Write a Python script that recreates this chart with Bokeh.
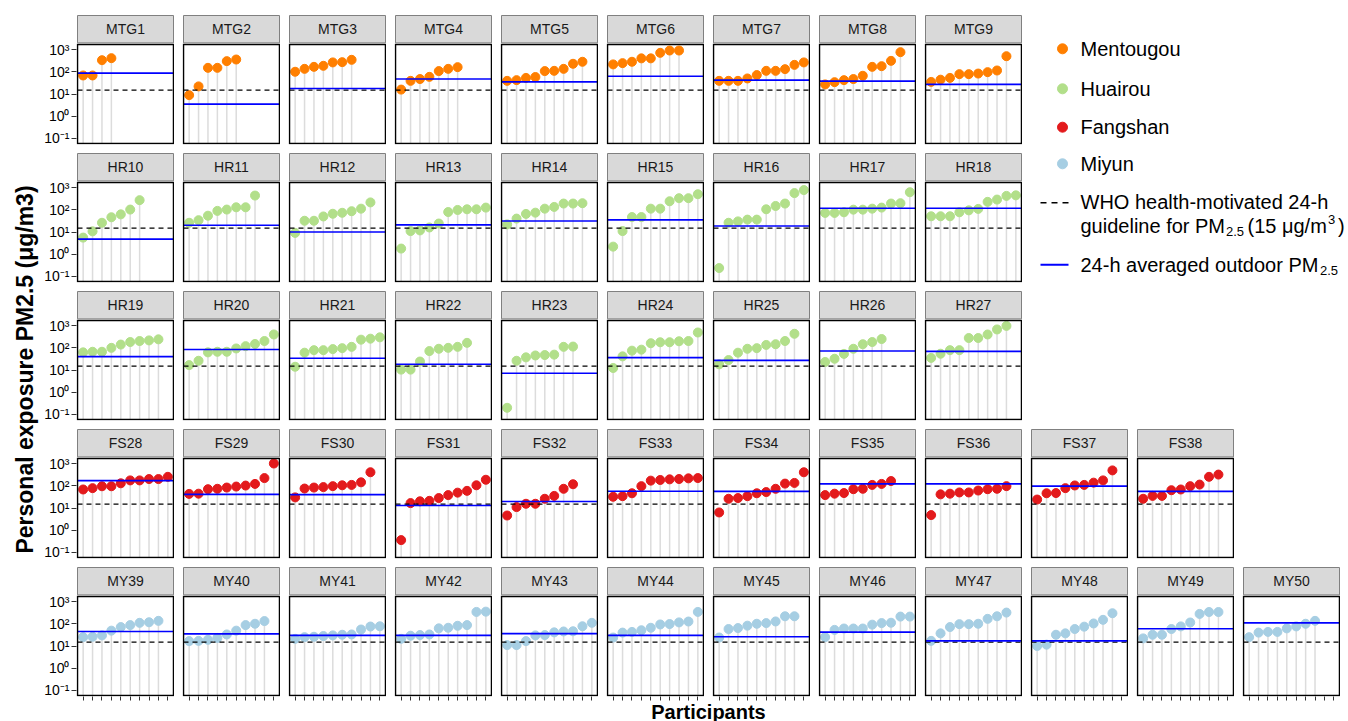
import math
from bokeh.plotting import figure
from bokeh.layouts import row, column
from bokeh.models import Range1d, LinearScale, FixedTicker, CustomJSTickFormatter
from bokeh.core.properties import value
from bokeh.embed import file_html
from bokeh.resources import INLINE

# ---------------- data ----------------
MTG_IDS = ["MTG1", "MTG2", "MTG3", "MTG4", "MTG5", "MTG6", "MTG7", "MTG8", "MTG9"]
MTG_EXPOSURE = [
    [68, 68, 331, 408],
    [8.9, 22, 150, 150, 300, 355],
    [100, 135, 166, 185, 263, 270, 344],
    [15.8, 39, 47, 59, 107, 135, 161],
    [39, 42, 53, 58, 107, 110, 135, 228, 281],
    [214, 244, 281, 400, 400, 708, 900, 900],
    [39, 39, 39, 50, 71, 110, 110, 131, 204, 263],
    [27, 34, 42, 47, 66, 166, 178, 309, 759],
    [35, 44, 53, 78, 78, 83, 96, 114, 500],
]
MTG_OUTDOOR = [87, 3.5, 17.7, 47, 35, 63, 42, 38, 27]

HR_IDS = ["HR10", "HR11", "HR12", "HR13", "HR14", "HR15", "HR16", "HR17", "HR18",
          "HR19", "HR20", "HR21", "HR22", "HR23", "HR24", "HR25", "HR26", "HR27"]
HR_EXPOSURE = [
    [5.6, 10.7, 26, 46, 62, 102, 270],
    [26, 34, 54, 89, 102, 129, 129, 435],
    [9.1, 32, 32, 50, 66, 73, 86, 112, 214],
    [1.8, 11, 11.8, 16, 24, 79, 98, 105, 105, 125],
    [22, 40, 65, 74, 112, 134, 190, 190, 197],
    [2.2, 11, 47, 47, 112, 112, 241, 331, 331, 500],
    [0.24, 26, 30, 36, 36, 105, 148, 190, 560, 767],
    [72, 72, 77, 101, 101, 112, 125, 190, 197, 615],
    [51, 51, 51, 77, 94, 109, 226, 287, 420, 445],
    [62, 66, 66, 99, 139, 181, 201, 214, 239],
    [16.6, 26, 62, 66, 66, 93, 118, 148, 201, 395],
    [14, 60, 78, 78, 87, 96, 110, 231, 256, 294],
    [10.4, 10.4, 24, 71, 90, 99, 110, 166],
    [0.2, 26, 37, 45, 47, 49, 110, 113],
    [12.3, 41, 74, 82, 160, 177, 177, 196, 201, 485],
    [18, 28, 60, 90, 96, 134, 144, 201, 425],
    [23, 32, 53, 90, 144, 181, 247],
    [35, 54, 78, 78, 274, 274, 395, 665, 960],
]
HR_OUTDOOR = [4.8, 20, 10, 21, 31, 35, 18.5, 117, 117,
              40, 83, 34, 18, 7.1, 36, 27, 71, 69]

FS_IDS = ["FS28", "FS29", "FS30", "FS31", "FS32", "FS33", "FS34", "FS35", "FS36", "FS37", "FS38"]
FS_EXPOSURE = [
    [68, 78, 95, 95, 129, 174, 174, 200, 200, 252],
    [43, 44, 70, 73, 83, 92, 102, 121, 221, 1000],
    [30, 75, 83, 87, 96, 105, 109, 143, 405],
    [0.36, 16.6, 20, 21, 28, 38, 49, 59, 105, 186],
    [4.6, 11, 15.5, 15.5, 26, 35, 73, 117],
    [32, 34, 46, 96, 170, 182, 194, 201, 215, 222],
    [6.3, 26, 28, 34, 46, 52, 73, 125, 134, 405],
    [38, 44, 47, 70, 73, 109, 121, 163],
    [4.8, 41, 44, 50, 50, 61, 70, 73, 96],
    [24, 46, 47, 78, 103, 109, 138, 174, 490],
    [26, 35, 35, 63, 68, 96, 113, 252, 318],
]
FS_OUTDOOR = [170, 41, 40, 13, 19.6, 57, 56, 121, 121, 96, 56]

MY_IDS = ["MY39", "MY40", "MY41", "MY42", "MY43", "MY44", "MY45", "MY46", "MY47",
          "MY48", "MY49", "MY50"]
MY_EXPOSURE = [
    [25, 26, 30, 49, 71, 87, 110, 117, 135],
    [16.6, 17, 19, 23, 33, 49, 87, 100, 132],
    [21, 25, 26, 28, 30, 32, 33, 55, 75, 77],
    [21, 29, 31, 33, 62, 66, 81, 87, 340, 350],
    [11, 11, 16.6, 30, 31, 41, 45, 46, 77, 110],
    [24, 40, 43, 51, 66, 93, 97, 115, 126, 340],
    [24, 58, 64, 82, 100, 107, 127, 217, 217],
    [25, 53, 61, 61, 61, 91, 107, 111, 210, 210],
    [17, 37, 71, 96, 96, 100, 166, 217, 318],
    [10, 11.5, 32, 37, 58, 74, 103, 150, 297],
    [22, 32, 32, 58, 76, 114, 277, 337, 337],
    [25, 40, 43, 43, 62, 76, 100, 135],
]
MY_OUTDOOR = [45, 35, 30, 30, 36, 30, 26, 42, 17, 17, 60, 110]

WHO_GUIDELINE = 15
REGIONS = ["Mentougou", "Huairou", "Fangshan", "Miyun"]
REGION_COLORS = ["#ff7f00", "#b2df8a", "#e31a1c", "#a6cee3"]
SLOTS = [1, 2, 3, 4, 5, 6, 7, 8, 9, 10]
Y_TICKS = [0.1, 1, 10, 100, 1000]

# ---------------- styling / geometry ----------------
FONT = "Liberation Sans"
LOG_LO, LOG_HI = -1.225, 3.225
PANEL_W, PANEL_H = 96, 99
D = PANEL_H / (LOG_HI - LOG_LO)          # px per decade
X_LO, X_HI = 0.4, 10.6
XU = (X_HI - X_LO) / PANEL_W              # x units per px
FW, FH = PANEL_W + 2, 130                 # frame size (1px pad)
STRIP_BOT, STRIP_TOP = 101.6, 129.0


def panel(label, vals, outdoor, color, first, bottom_axis, top_border):
    left = 37 if first else 8
    bot = 6 if bottom_axis else 8
    ylo = 10 ** (LOG_LO - 1 / D)
    yhi = 10 ** (LOG_LO - 1 / D + FH / D)
    p = figure(width=left + FW, height=top_border + FH + bot, output_backend="svg",
               toolbar_location=None,
               x_range=Range1d(X_LO - XU, X_HI + XU), y_range=Range1d(ylo, yhi),
               y_axis_type="log",
               x_axis_location="below" if bottom_axis else None,
               y_axis_location="left" if first else None,
               min_border_left=left, min_border_right=0, min_border_top=top_border,
               min_border_bottom=bot, outline_line_color=None)
    p.extra_y_ranges = {"px": Range1d(0, FH)}
    p.extra_y_scales = {"px": LinearScale()}
    p.grid.grid_line_color = None

    xs = SLOTS[:len(vals)]
    base = 10 ** LOG_LO
    p.segment(x0=xs, y0=[base] * len(xs), x1=xs, y1=vals, line_color="#dcdcdc", line_width=1.5)
    p.scatter(x=xs, y=vals, size=9, fill_color=color, line_color=color)
    p.segment(x0=[X_LO], y0=[WHO_GUIDELINE], x1=[X_HI], y1=[WHO_GUIDELINE],
              line_color="black", line_width=1.4, line_dash="5 4")
    p.segment(x0=[X_LO], y0=[outdoor], x1=[X_HI], y1=[outdoor],
              line_color="#0000ff", line_width=1.6)
    # panel border
    p.quad(left=[X_LO], right=[X_HI], bottom=[1], top=[1 + PANEL_H], y_range_name="px",
           fill_color=None, line_color="black", line_width=1.5, line_join="miter")
    # strip
    p.quad(left=[X_LO], right=[X_HI], bottom=[STRIP_BOT], top=[STRIP_TOP], y_range_name="px",
           fill_color="#d9d9d9", line_color="#808080", line_width=1)
    p.text(x=[(X_LO + X_HI) / 2], y=[(STRIP_BOT + STRIP_TOP) / 2], text=[label],
           y_range_name="px", text_align="center", text_baseline="middle",
           text_font=value(FONT), text_font_size="14px", text_color="#1a1a1a")

    if first:
        ax = p.yaxis[0]
        ax.ticker = FixedTicker(ticks=Y_TICKS)
        ax.formatter = CustomJSTickFormatter(code="""
            const e = Math.round(Math.log10(tick));
            const sup = {"-1": "⁻¹", "0": "⁰", "1": "¹", "2": "²", "3": "³"};
            return "10" + sup[String(e)];
        """)
        ax.axis_line_color = None
        ax.major_tick_out = 5
        ax.major_tick_in = 0
        ax.minor_tick_line_color = None
        ax.major_tick_line_color = "#333333"
        ax.major_label_text_font = FONT
        ax.major_label_text_font_size = "14px"
        ax.major_label_text_color = "black"
        ax.major_label_standoff = 2
    if bottom_axis:
        ax = p.xaxis[0]
        ax.ticker = FixedTicker(ticks=SLOTS)
        ax.formatter = CustomJSTickFormatter(code='return "";')
        ax.axis_line_color = None
        ax.major_tick_out = 4
        ax.major_tick_in = 0
        ax.minor_tick_line_color = None
        ax.major_tick_line_color = "#333333"
        ax.major_label_text_font_size = "2px"
        ax.major_label_standoff = 0
    return p


panels = []
for ids, exps, outs, col in [(MTG_IDS, MTG_EXPOSURE, MTG_OUTDOOR, REGION_COLORS[0]),
                             (HR_IDS, HR_EXPOSURE, HR_OUTDOOR, REGION_COLORS[1]),
                             (FS_IDS, FS_EXPOSURE, FS_OUTDOOR, REGION_COLORS[2]),
                             (MY_IDS, MY_EXPOSURE, MY_OUTDOOR, REGION_COLORS[3])]:
    for lab, v, o in zip(ids, exps, outs):
        panels.append((lab, v, o, col))

row_splits = [(0, 9), (9, 18), (18, 27), (27, 38), (38, 50)]
rows = []
for r, (a, b) in enumerate(row_splits):
    figs = [panel(lab, v, o, c, first=(i == 0), bottom_axis=(r == 4),
                  top_border=(14 if r == 0 else 0))
            for i, (lab, v, o, c) in enumerate(panels[a:b])]
    rows.append(row(*figs, spacing=0))

# ---------------- legend ----------------
LW, LH = 326, 428
leg = figure(width=LW, height=LH, output_backend="svg", toolbar_location=None,
             x_range=Range1d(0, LW), y_range=Range1d(LH, 0),
             x_axis_location=None, y_axis_location=None,
             min_border_left=0, min_border_right=0, min_border_top=0, min_border_bottom=0,
             outline_line_color=None)
leg.grid.grid_line_color = None
dot_y = [48.3, 88.3, 126.7, 163.3]
leg.scatter(x=[40] * 4, y=dot_y, size=10, fill_color=REGION_COLORS, line_color=REGION_COLORS)
big = dict(text_baseline="middle", text_font=value(FONT), text_font_size="20px", text_color="black")
small = dict(text_baseline="middle", text_font=value(FONT), text_font_size="13px", text_color="black")
leg.text(x=[58] * 4, y=dot_y, text=REGIONS, **big)
leg.segment(x0=[18], y0=[202.3], x1=[46], y1=[202.3], line_color="black",
            line_width=1.5, line_dash="6 5")
leg.segment(x0=[18], y0=[264.3], x1=[46], y1=[264.3], line_color="#0000ff", line_width=2)
leg.text(x=[58, 58, 225, 58], y=[201.7, 225, 225, 264.3],
         text=["WHO health-motivated 24-h", "guideline for PM", "(15 μg/m", "24-h averaged outdoor PM"],
         **big)
leg.text(x=[315.5], y=[225], text=[")"], **big)
leg.text(x=[203.5, 297.5], y=[230.5, 269.8], text=["2.5", "2.5"], **small)
leg.text(x=[305.5], y=[219], text=["3"], **small)

# ---------------- axis titles ----------------
ylab = figure(width=39, height=721, output_backend="svg", toolbar_location=None,
              x_range=Range1d(0, 39), y_range=Range1d(0, 721),
              x_axis_location=None, y_axis_location=None,
              min_border_left=0, min_border_right=0, min_border_top=0, min_border_bottom=0,
              outline_line_color=None)
ylab.grid.grid_line_color = None
ylab.text(x=[24.5], y=[352], text=["Personal exposure PM2.5 (μg/m3)"], angle=math.pi / 2,
          text_align="center", text_baseline="middle", text_font=value(FONT),
          text_font_size="23px", text_font_style="bold", text_color="black")

xlab = figure(width=1301, height=19, output_backend="svg", toolbar_location=None,
              x_range=Range1d(0, 1301), y_range=Range1d(0, 19),
              x_axis_location=None, y_axis_location=None,
              min_border_left=0, min_border_right=0, min_border_top=0, min_border_bottom=0,
              outline_line_color=None)
xlab.grid.grid_line_color = None
xlab.text(x=[669], y=[10], text=["Participants"], text_align="center",
          text_baseline="middle", text_font=value(FONT), text_font_size="20px",
          text_font_style="bold", text_color="black")

top_block = row(column(rows[0], rows[1], rows[2], spacing=0), leg, spacing=0)
main = column(top_block, rows[3], rows[4], xlab, spacing=0)
layout = row(ylab, main, spacing=0)

open("out.html", "w").write(file_html(layout, INLINE))
